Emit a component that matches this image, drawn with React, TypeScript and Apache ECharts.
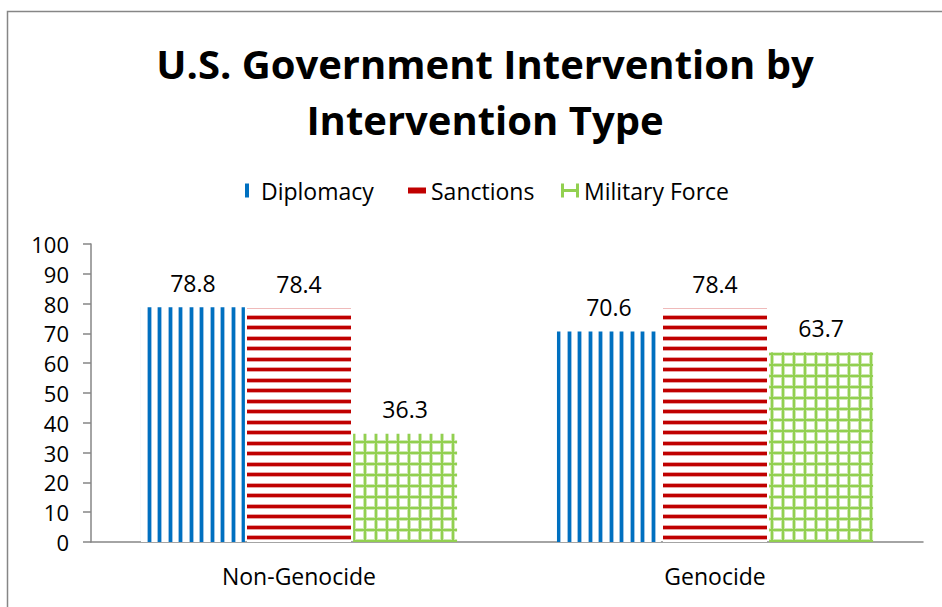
import React, { useEffect, useRef } from "react";
import * as echarts from "echarts";

const categories = ["Non-Genocide", "Genocide"];
const seriesNames = ["Diplomacy", "Sanctions", "Military Force"];
const diplomacy = [78.8, 70.6];
const sanctions = [78.4, 78.4];
const militaryForce = [36.3, 63.7];
const yTicks = { min: 0, max: 100, interval: 10 };

const FONT = "'Open Sans', 'Noto Sans', sans-serif";

function makePattern(w: number, h: number, draw: (ctx: CanvasRenderingContext2D) => void) {
  const c = document.createElement("canvas");
  c.width = w;
  c.height = h;
  const ctx = c.getContext("2d") as CanvasRenderingContext2D;
  ctx.fillStyle = "#ffffff";
  ctx.fillRect(0, 0, w, h);
  draw(ctx);
  return { image: c.toDataURL(), imageWidth: w, imageHeight: h, repeat: "repeat" };
}

export default function App() {
  const ref = useRef<HTMLDivElement>(null);
  useEffect(() => {
    if (!ref.current) return;
    const chart = echarts.init(ref.current, null, { renderer: "svg" });

    const blue = makePattern(21, 4, (ctx) => {
      for (const x0 of [0, 10]) {
        ctx.fillStyle = "#9cc4e6";
        ctx.fillRect(x0, 0, 1, 4);
        ctx.fillRect(x0 + 4, 0, 1, 4);
        ctx.fillStyle = "#0070c0";
        ctx.fillRect(x0 + 1, 0, 3, 4);
      }
    });
    const red = makePattern(4, 21, (ctx) => {
      for (const y0 of [0, 10]) {
        ctx.fillStyle = "#e9a3a3";
        ctx.fillRect(0, y0, 4, 1);
        ctx.fillRect(0, y0 + 4, 4, 1);
        ctx.fillStyle = "#c00000";
        ctx.fillRect(0, y0 + 1, 4, 3);
      }
    });
    const green = makePattern(11, 11, (ctx) => {
      ctx.fillStyle = "#cfe8b3";
      ctx.fillRect(0, 0, 4, 11);
      ctx.fillRect(0, 0, 11, 4);
      ctx.fillStyle = "#92d050";
      ctx.fillRect(1, 0, 2, 11);
      ctx.fillRect(0, 1, 11, 2);
    });

    const labelStyle = {
      show: true,
      position: "top",
      distance: 13,
      fontSize: 23,
      fontFamily: FONT,
      color: "#000",
    };

    const legendBase = {
      top: 174,
      itemWidth: 18,
      itemHeight: 14,
      textStyle: { fontSize: 23, fontFamily: FONT, color: "#000" },
    };

    chart.setOption({
      animation: false,
      title: {
        text: "U.S. Government Intervention by\nIntervention Type",
        left: 480,
        textAlign: "center",
        top: 30,
        textStyle: {
          fontSize: 40,
          fontWeight: "bold",
          fontFamily: FONT,
          color: "#000",
          lineHeight: 56,
        },
      },
      graphic: [
        {
          type: "rect",
          left: 5,
          top: 9,
          shape: { width: 1000, height: 700 },
          style: { fill: "none", stroke: "#868686", lineWidth: 1.5 },
          silent: true,
        },
      ],
      legend: [
        {
          ...legendBase,
          left: 240,
          data: [
            {
              name: seriesNames[0],
              icon: "path://M0,0h4v14h-4z",
              itemStyle: { color: "#0070c0" },
            },
          ],
        },
        {
          ...legendBase,
          left: 403,
          data: [
            {
              name: seriesNames[1],
              icon: "path://M0,4h18v6h-18z",
              itemStyle: { color: "#c00000" },
            },
          ],
        },
        {
          ...legendBase,
          left: 556,
          data: [
            {
              name: seriesNames[2],
              icon: "path://M0,0h3v5.5h12v-5.5h3v14h-3v-5.5h-12v5.5h-3z",
              itemStyle: { color: "#92d050" },
            },
          ],
        },
      ],
      grid: { left: 91, right: 19, top: 244, bottom: 65, containLabel: false },
      xAxis: {
        type: "category",
        data: categories,
        axisLine: { show: true, lineStyle: { color: "#868686", width: 1.5 } },
        axisTick: { show: false },
        axisLabel: { fontSize: 23, fontFamily: FONT, color: "#000", margin: 22 },
      },
      yAxis: {
        type: "value",
        min: yTicks.min,
        max: yTicks.max,
        interval: yTicks.interval,
        axisLine: { show: true, lineStyle: { color: "#868686", width: 1.5 } },
        axisTick: { show: true, length: 8, lineStyle: { color: "#868686", width: 1.5 } },
        splitLine: { show: false },
        axisLabel: { fontSize: 22, fontFamily: FONT, color: "#000", margin: 22 },
      },
      series: [
        {
          name: seriesNames[0],
          type: "bar",
          data: diplomacy,
          itemStyle: { color: blue },
          label: labelStyle,
          barGap: "2%",
          barCategoryGap: "24%",
        },
        {
          name: seriesNames[1],
          type: "bar",
          data: sanctions,
          itemStyle: { color: red },
          label: labelStyle,
          barGap: "2%",
          barCategoryGap: "24%",
        },
        {
          name: seriesNames[2],
          type: "bar",
          data: militaryForce,
          itemStyle: { color: green },
          label: labelStyle,
          barGap: "2%",
          barCategoryGap: "24%",
        },
      ],
    });
    return () => chart.dispose();
  }, []);
  return (
    <div
      ref={ref}
      style={{ position: "fixed", left: 0, top: 0, width: 942, height: 607, background: "#fff" }}
    />
  );
}
